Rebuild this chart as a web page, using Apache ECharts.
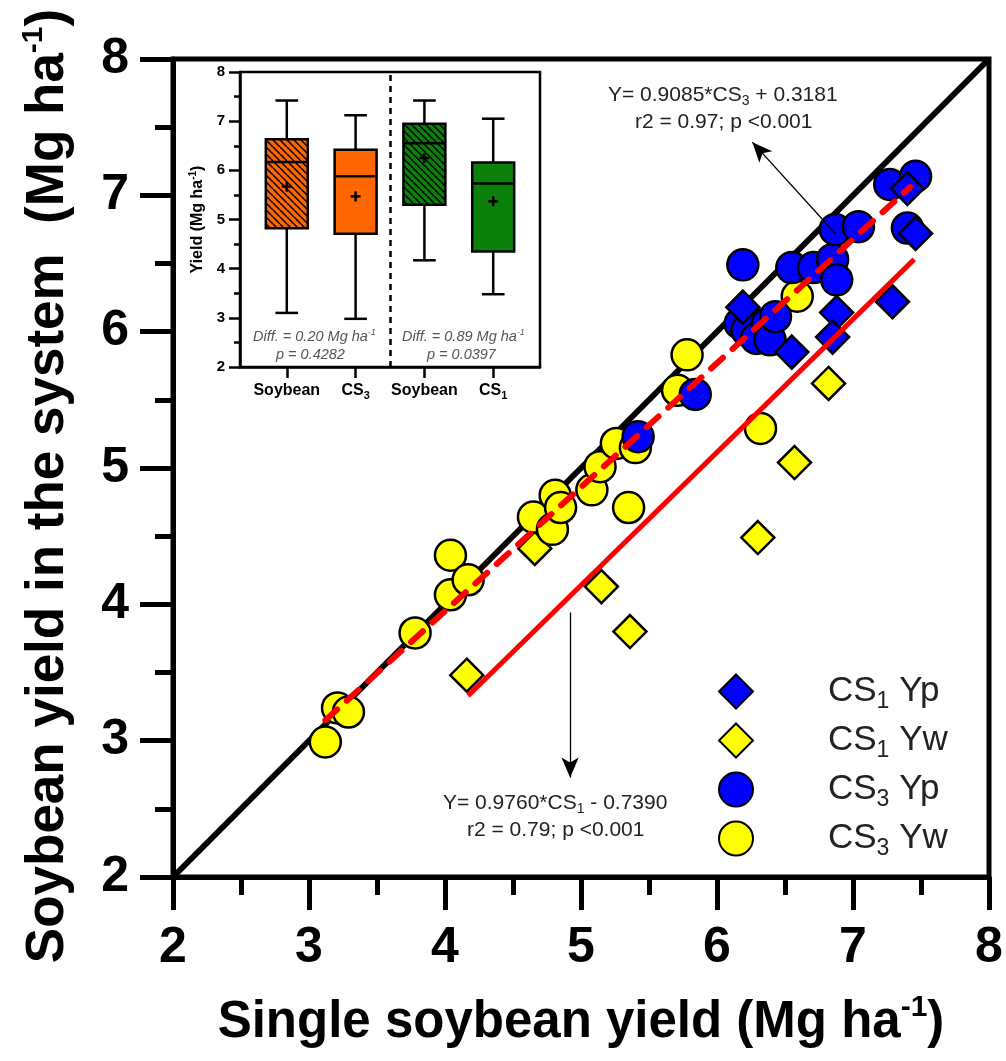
<!DOCTYPE html>
<html><head><meta charset="utf-8">
<script src="https://cdn.jsdelivr.net/npm/echarts@6/dist/echarts.min.js"></script>
<style>html,body{margin:0;padding:0;background:#fff}#c{width:1006px;height:1061px}</style>
</head><body><div id="c"></div>
<script>
// ---- main scatter data: [single soybean yield, soybean yield in the system] ----
const cs1Yw = [[4.16,3.48],[4.66,4.41],[5.15,4.13],[5.36,3.80],[6.30,4.49],[6.57,5.04],[6.82,5.62]];
const cs3Yw = [[3.12,2.99],[3.21,3.24],[3.29,3.21],[3.78,3.79],[4.04,4.36],[4.04,4.07],[4.17,4.18],
  [4.65,4.64],[4.79,4.55],[4.81,4.80],[4.85,4.71],[5.08,4.84],[5.14,5.01],[5.26,5.18],[5.40,5.15],
  [5.35,4.71],[5.71,5.57],[5.78,5.83],[6.32,5.29],[6.59,6.26]];
const cs3Yp = [[5.42,5.23],[5.84,5.54],[6.17,6.06],[6.22,6.01],[6.29,5.95],[6.37,6.06],[6.39,5.94],
  [6.43,6.11],[6.19,6.49],[6.55,6.47],[6.71,6.47],[6.85,6.53],[6.88,6.38],[6.87,6.75],[7.04,6.77],
  [7.40,6.76],[7.27,7.08],[7.46,7.14]];
const cs1Yp = [[6.19,6.18],[6.55,5.85],[6.88,6.14],[6.85,5.96],[7.29,6.22],[7.40,7.05],[7.46,6.72]];
const oneToOne = [[2,2],[8,8]];
const fitCS3 = [[3.12,3.15],[7.42,7.06]];
const fitCS1 = [[4.17,3.33],[7.45,6.53]];
const arrowCS3 = [[6.87,6.72],[6.26,7.39]];
const arrowCS1 = [[4.92,3.94],[4.92,2.73]];

// ---- inset box plot data ----
const boxCategories = ['Soybean','CS3','Soybean','CS1'];
const boxMin    = [3.10,2.98,4.17,3.48];
const boxQ1     = [4.82,4.71,5.30,4.35];
const boxMedian = [6.17,5.88,6.55,5.73];
const boxQ3     = [6.63,6.42,6.95,6.16];
const boxMax    = [7.42,7.12,7.42,7.05];
const boxMean   = [5.67,5.47,6.25,5.37];
const boxSeparator = 1.5;

const FF = "'Liberation Sans', Arial, Helvetica, sans-serif";
function sub(s){ return s.replace(/CS(\d)/g, 'CS{s|$1}'); }
function hatch(color){
  const c=document.createElement('canvas'); c.width=7; c.height=7;
  const g=c.getContext('2d'); g.fillStyle=color; g.fillRect(0,0,7,7);
  g.strokeStyle='#000'; g.lineWidth=1.5; g.beginPath();
  for (const o of [-7,0,7]) { g.moveTo(o,0); g.lineTo(o+7,7); }
  g.stroke();
  return {image:c, repeat:'repeat'};
}
const boxFills = [hatch('#FF6600'), '#FF6600', hatch('#0A800A'), '#0A800A'];
const boxData = boxCategories.map((c,i)=>[i, boxMin[i], boxQ1[i], boxMedian[i], boxQ3[i], boxMax[i], boxMean[i]]);

function renderBox(params, api){
  const i = api.value(0);
  const xc = api.coord([i, api.value(3)])[0];
  const y = k => api.coord([i, api.value(k)])[1];
  const yMin=y(1), yQ1=y(2), yMed=y(3), yQ3=y(4), yMax=y(5), yMean=y(6);
  const bw = api.size([1,0])[0]*0.61, hw=bw/2, cw=bw*0.27;
  const ls = {stroke:'#000', lineWidth:2.5};
  return {type:'group', children:[
    {type:'line', shape:{x1:xc,y1:yMax,x2:xc,y2:yQ3}, style:ls},
    {type:'line', shape:{x1:xc,y1:yQ1,x2:xc,y2:yMin}, style:ls},
    {type:'line', shape:{x1:xc-cw,y1:yMax,x2:xc+cw,y2:yMax}, style:ls},
    {type:'line', shape:{x1:xc-cw,y1:yMin,x2:xc+cw,y2:yMin}, style:ls},
    {type:'rect', shape:{x:xc-hw,y:yQ3,width:bw,height:yQ1-yQ3}, style:{fill:boxFills[i], stroke:'#000', lineWidth:2.5}},
    {type:'line', shape:{x1:xc-hw,y1:yMed,x2:xc+hw,y2:yMed}, style:ls},
    {type:'line', shape:{x1:xc-5,y1:yMean,x2:xc+5,y2:yMean}, style:ls},
    {type:'line', shape:{x1:xc,y1:yMean-5,x2:xc,y2:yMean+5}, style:ls}
  ]};
}

const chart = echarts.init(document.getElementById('c'), null, {renderer:'canvas'});
const supRich = (fs)=>({p:{fontSize:fs, fontWeight:'bold', lineHeight:fs, padding:[0,0,fs,0], fontFamily:FF}});
const option = {
  backgroundColor:'#fff',
  animation:false,
  grid:[
    {left:173, top:59, width:816, height:818, show:true, borderColor:'#000', borderWidth:5, backgroundColor:'transparent', z:0,
     containLabel:false, outerBoundsMode:'none'},
    {left:240, top:72, width:300, height:295, show:true, borderColor:'#000', borderWidth:2.5, backgroundColor:'#fff', z:0,
     containLabel:false, outerBoundsMode:'none'}
  ],
  xAxis:[
    {gridIndex:0, type:'value', min:2, max:8, interval:1,
     axisLine:{show:true, onZero:false, lineStyle:{color:'#000', width:5}},
     axisTick:{show:true, length:33, lineStyle:{color:'#000', width:5}},
     minorTick:{show:true, splitNumber:2, length:18, lineStyle:{color:'#000', width:5}},
     splitLine:{show:false},
     axisLabel:{fontSize:50, fontWeight:'bold', color:'#000', fontFamily:FF, margin:46},
     name:'Single soybean yield (Mg ha{p|-1})', nameLocation:'middle', nameGap:120,
     nameTextStyle:{fontSize:51, fontWeight:'bold', color:'#000', fontFamily:FF, rich:supRich(30)}},
    {gridIndex:1, type:'value', min:-0.68, max:3.68,
     axisLine:{show:true, onZero:false, lineStyle:{color:'#000', width:2.5}},
     axisTick:{show:true, length:11, customValues:[0,1,2,3], lineStyle:{color:'#000', width:2.5}},
     splitLine:{show:false},
     axisLabel:{customValues:[0,1,2,3], fontSize:16, fontWeight:'bold', color:'#000', fontFamily:FF, margin:16,
       formatter:v=>sub(boxCategories[Math.round(v)]),
       rich:{s:{fontSize:11, fontWeight:'bold', lineHeight:11, padding:[10,0,0,0], fontFamily:FF}}}}
  ],
  yAxis:[
    {gridIndex:0, type:'value', min:2, max:8, interval:1,
     axisLine:{show:true, onZero:false, lineStyle:{color:'#000', width:5}},
     axisTick:{show:true, length:33, lineStyle:{color:'#000', width:5}},
     minorTick:{show:true, splitNumber:2, length:18, lineStyle:{color:'#000', width:5}},
     splitLine:{show:false},
     axisLabel:{fontSize:50, fontWeight:'bold', color:'#000', fontFamily:FF, margin:44},
     name:'Soybean yield in the system  (Mg ha{p|-1})', nameLocation:'middle', nameGap:98, nameRotate:90,
     nameTextStyle:{fontSize:53, fontWeight:'bold', color:'#000', fontFamily:FF, padding:[0,36,0,0], rich:supRich(30)}},
    {gridIndex:1, type:'value', min:2, max:8, interval:1,
     axisLine:{show:true, onZero:false, lineStyle:{color:'#000', width:2.5}},
     axisTick:{show:true, length:11, lineStyle:{color:'#000', width:2.5}},
     minorTick:{show:true, splitNumber:2, length:6, lineStyle:{color:'#000', width:2.5}},
     splitLine:{show:false},
     axisLabel:{fontSize:15, fontWeight:'bold', color:'#000', fontFamily:FF, margin:15},
     name:'Yield (Mg ha{p|-1})', nameLocation:'middle', nameGap:34, nameRotate:90,
     nameTextStyle:{fontSize:16, fontWeight:'bold', color:'#000', fontFamily:FF, rich:supRich(10)}}
  ],
  legend:{
    data:['CS1 Yp','CS1 Yw','CS3 Yp','CS3 Yw'],
    orient:'vertical', left:718, top:670, padding:0, itemWidth:34, itemHeight:34, itemGap:6,
    formatter:n=>'{sp|}'+sub(n),
    textStyle:{fontSize:35, color:'#222', fontFamily:FF,
      rich:{sp:{width:70}, s:{fontSize:23, lineHeight:23, padding:[20,0,0,0], color:'#222', fontFamily:FF}}}
  },
  series:[
    {type:'line', name:'1:1', xAxisIndex:0, yAxisIndex:0, data:oneToOne, symbol:'none', z:1,
     lineStyle:{color:'#000', width:6}, silent:true,
     markLine:{silent:true, symbol:['none','arrow'], symbolSize:[13,20], z:10,
       label:{show:false}, lineStyle:{color:'#000', width:1.3, type:'solid'},
       data:[[{coord:arrowCS3[0]},{coord:arrowCS3[1]}],[{coord:arrowCS1[0]},{coord:arrowCS1[1]}]]}},
    {type:'scatter', name:'CS1 Yw', data:cs1Yw, symbol:'diamond', symbolSize:33, z:2,
     itemStyle:{color:'#FFFF00', borderColor:'#000', borderWidth:2.5, opacity:1}},
    {type:'scatter', name:'CS3 Yw', data:cs3Yw, symbol:'circle', symbolSize:31, z:2,
     itemStyle:{color:'#FFFF00', borderColor:'#000', borderWidth:2.5, opacity:1}},
    {type:'scatter', name:'CS3 Yp', data:cs3Yp, symbol:'circle', symbolSize:31, z:2,
     itemStyle:{color:'#0000FF', borderColor:'#000', borderWidth:2.5, opacity:1}},
    {type:'scatter', name:'CS1 Yp', data:cs1Yp, symbol:'diamond', symbolSize:33, z:2,
     itemStyle:{color:'#0000FF', borderColor:'#000', borderWidth:2.5, opacity:1}},
    {type:'line', name:'fit CS3', data:fitCS3, symbol:'none', z:4, silent:true,
     lineStyle:{color:'#FF0000', width:6, type:[16,13], cap:'round'}},
    {type:'line', name:'fit CS1', data:fitCS1, symbol:'none', z:4, silent:true,
     lineStyle:{color:'#FF0000', width:5}},
    {type:'custom', name:'box', xAxisIndex:1, yAxisIndex:1, data:boxData, renderItem:renderBox, z:5,
     encode:{x:0, y:[1,2,3,4,5]},
     markLine:{silent:true, symbol:'none', label:{show:false},
       lineStyle:{color:'#000', width:2.5, type:[6,5]}, data:[{xAxis:boxSeparator}]}}
  ],
  graphic:[
    {type:'text', left:608, top:82, z:20, style:{text:'Y= 0.9085*CS{s|3} + 0.3181', fontSize:21, fill:'#222', fontFamily:FF,
      rich:{s:{fontSize:14, lineHeight:14, padding:[12,0,0,0], fill:'#222', fontFamily:FF}}}},
    {type:'text', left:635, top:112, z:20, style:{text:'r2 = 0.97; p <0.001', fontSize:21, fill:'#222', fontFamily:FF}},
    {type:'text', left:443, top:790, z:20, style:{text:'Y= 0.9760*CS{s|1} - 0.7390', fontSize:21, fill:'#222', fontFamily:FF,
      rich:{s:{fontSize:14, lineHeight:14, padding:[12,0,0,0], fill:'#222', fontFamily:FF}}}},
    {type:'text', left:467, top:820, z:20, style:{text:'r2 = 0.79; p <0.001', fontSize:21, fill:'#222', fontFamily:FF}},
    {type:'text', left:253, top:328, z:20, style:{text:'Diff. = 0.20 Mg ha{p|-1}', fontSize:14.5, fontStyle:'italic', fill:'#555', fontFamily:FF,
      rich:{p:{fontSize:9, fontStyle:'italic', lineHeight:9, padding:[0,0,9,0], fill:'#555', fontFamily:FF}}}},
    {type:'text', left:276, top:347, z:20, style:{text:'p = 0.4282', fontSize:14.5, fontStyle:'italic', fill:'#555', fontFamily:FF}},
    {type:'text', left:402, top:328, z:20, style:{text:'Diff. = 0.89 Mg ha{p|-1}', fontSize:14.5, fontStyle:'italic', fill:'#555', fontFamily:FF,
      rich:{p:{fontSize:9, fontStyle:'italic', lineHeight:9, padding:[0,0,9,0], fill:'#555', fontFamily:FF}}}},
    {type:'text', left:427, top:347, z:20, style:{text:'p = 0.0397', fontSize:14.5, fontStyle:'italic', fill:'#555', fontFamily:FF}}
  ]
};
chart.setOption(option);
</script></body></html>
